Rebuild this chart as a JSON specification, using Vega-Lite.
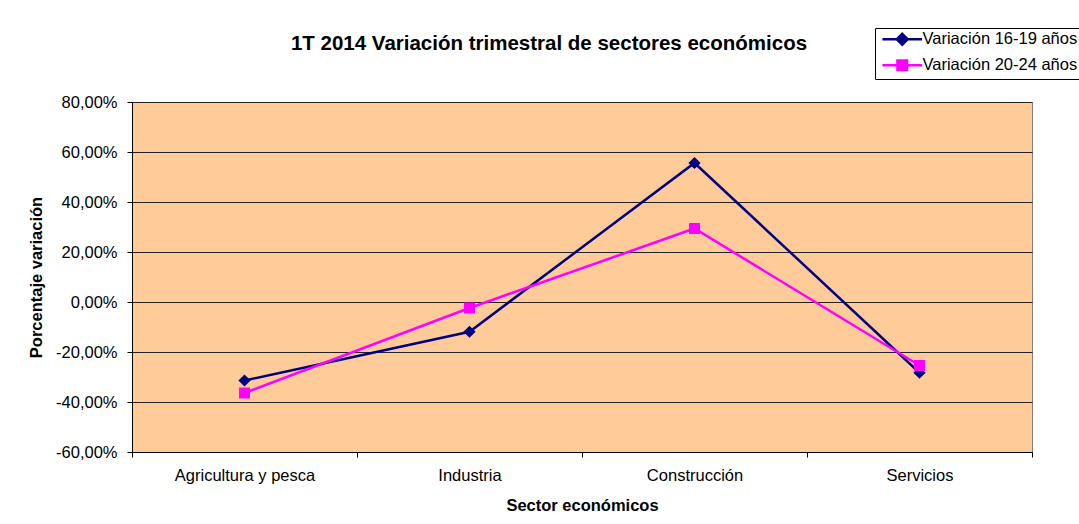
{
  "$schema": "https://vega.github.io/schema/vega-lite/v6.json",
  "width": 900,
  "height": 350,
  "autosize": {"type": "none"},
  "padding": {"left": 132, "top": 102, "right": 47, "bottom": 72},
  "background": "white",
  "title": {
    "text": "1T 2014 Variación trimestral de sectores económicos",
    "font": "Liberation Sans",
    "fontSize": 20.5,
    "fontWeight": "bold",
    "color": "black",
    "anchor": "middle",
    "dx": -33,
    "dy": 27,
    "offset": 0
  },
  "data": {
    "values": [
      {"sector": "Agricultura y pesca", "serie": "Variación 16-19 años", "valor": -0.314},
      {"sector": "Industria", "serie": "Variación 16-19 años", "valor": -0.119},
      {"sector": "Construcción", "serie": "Variación 16-19 años", "valor": 0.556},
      {"sector": "Servicios", "serie": "Variación 16-19 años", "valor": -0.283},
      {"sector": "Agricultura y pesca", "serie": "Variación 20-24 años", "valor": -0.364},
      {"sector": "Industria", "serie": "Variación 20-24 años", "valor": -0.024},
      {"sector": "Construcción", "serie": "Variación 20-24 años", "valor": 0.294},
      {"sector": "Servicios", "serie": "Variación 20-24 años", "valor": -0.254}
    ]
  },
  "encoding": {
    "x": {
      "field": "sector",
      "type": "nominal",
      "sort": ["Agricultura y pesca", "Industria", "Construcción", "Servicios"],
      "scale": {"type": "band", "paddingInner": 0, "paddingOuter": 0},
      "axis": {
        "title": "Sector económicos",
        "tickBand": "extent",
        "labelAngle": 0,
        "labelPadding": 10,
        "titlePadding": 14,
        "grid": false
      }
    },
    "y": {
      "field": "valor",
      "type": "quantitative",
      "scale": {"domain": [-0.6, 0.8], "nice": false, "zero": false},
      "axis": {
        "title": "Porcentaje variación",
        "values": [-0.6, -0.4, -0.2, 0, 0.2, 0.4, 0.6, 0.8],
        "labelExpr": "replace(replace(format(datum.value, '.2%'), '.', ','), '−', '-')",
        "grid": true,
        "gridColor": "#222222",
        "gridWidth": 1,
        "gridOpacity": 1,
        "labelPadding": 10,
        "titlePadding": 11
      }
    },
    "color": {
      "field": "serie",
      "type": "nominal",
      "scale": {"domain": ["Variación 16-19 años", "Variación 20-24 años"], "range": ["#000080", "#FF00FF"]},
      "legend": null
    }
  },
  "layer": [
    {
      "mark": {"type": "line", "strokeWidth": 2.5},
      "encoding": {
        "color": {
          "field": "serie",
          "type": "nominal",
          "scale": {"domain": ["Variación 16-19 años", "Variación 20-24 años"], "range": ["#000080", "#FF00FF"]},
          "legend": {
            "title": null,
            "orient": "none",
            "legendX": 743,
            "legendY": -74,
            "strokeColor": "black",
            "fillColor": "white",
            "padding": 3,
            "rowPadding": 5,
            "labelFont": "Liberation Sans",
            "labelFontSize": 16.5,
            "labelColor": "black",
            "symbolSize": 144,
            "symbolOffset": 16,
            "labelOffset": 12,
            "symbolStrokeWidth": 2.5,
            "symbolOpacity": 1,
            "encode": {
              "symbols": {
                "update": {
                  "shape": {"signal": "datum.value === 'Variación 16-19 años' ? 'M-3.3,0L3.3,0M0,-0.9L0.9,0L0,0.9L-0.9,0Z' : 'M-3.3,0L3.3,0M-0.8,-0.8L0.8,-0.8L0.8,0.8L-0.8,0.8Z'"},
                  "fill": {"signal": "datum.value === 'Variación 16-19 años' ? '#000080' : '#FF00FF'"},
                  "stroke": {"signal": "datum.value === 'Variación 16-19 años' ? '#000080' : '#FF00FF'"},
                  "strokeWidth": {"value": 2.5},
                  "strokeOpacity": {"value": 1}
                }
              }
            }
          }
        }
      }
    },
    {
      "transform": [{"filter": "datum.serie === 'Variación 16-19 años'"}],
      "mark": {"type": "point", "shape": "diamond", "size": 150, "filled": true, "opacity": 1}
    },
    {
      "transform": [{"filter": "datum.serie === 'Variación 20-24 años'"}],
      "mark": {"type": "point", "shape": "square", "size": 120, "filled": true, "opacity": 1}
    }
  ],
  "config": {
    "font": "Liberation Sans",
    "view": {"fill": "#FFCC99", "stroke": "#808080", "strokeWidth": 1},
    "axis": {
      "domainColor": "black",
      "domainWidth": 1,
      "tickColor": "black",
      "tickSize": 5,
      "labelFont": "Liberation Sans",
      "labelFontSize": 16.5,
      "labelColor": "black",
      "titleFont": "Liberation Sans",
      "titleFontSize": 16.5,
      "titleFontWeight": "bold",
      "titleColor": "black"
    }
  }
}
